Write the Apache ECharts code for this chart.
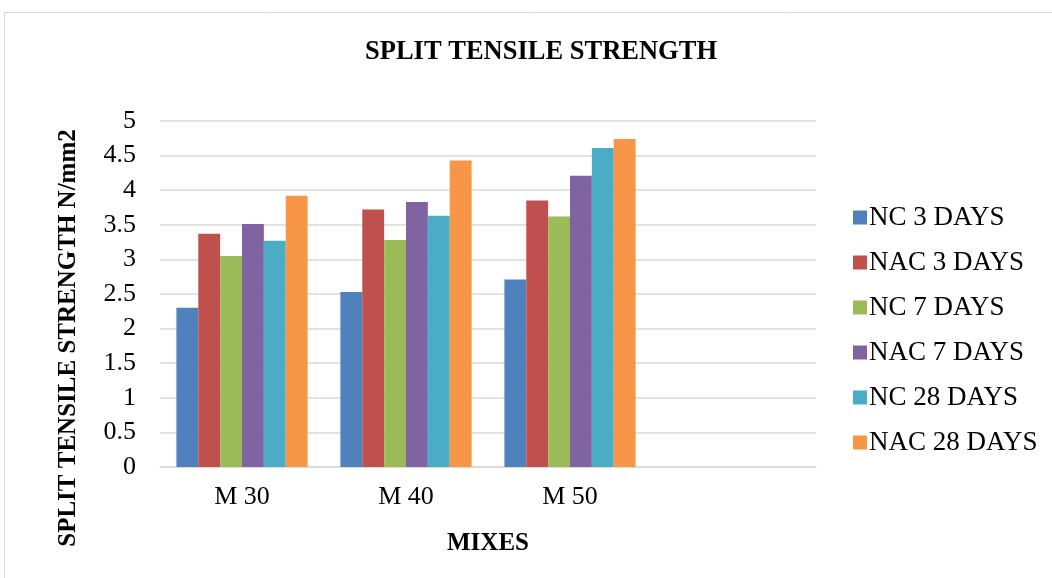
<!DOCTYPE html>
<html>
<head>
<meta charset="utf-8">
<script src="https://cdn.jsdelivr.net/npm/echarts@6/dist/echarts.min.js"></script>
<style>
  html, body { margin: 0; padding: 0; background: #fff; }
  #chart { width: 1052px; height: 578px; }
</style>
</head>
<body>
<div id="chart"></div>
<script>
// Mix designs on the category axis (last slot left empty)
const mixes = ['M 30', 'M 40', 'M 50', ''];

// Split tensile strength, N/mm2, per curing age
const nc3 = [2.30, 2.53, 2.71];
const nac3 = [3.37, 3.72, 3.85];
const nc7 = [3.05, 3.28, 3.62];
const nac7 = [3.51, 3.83, 4.21];
const nc28 = [3.27, 3.63, 4.61];
const nac28 = [3.92, 4.43, 4.74];

const seriesNames = ['NC 3 DAYS', 'NAC 3 DAYS', 'NC 7 DAYS', 'NAC 7 DAYS', 'NC 28 DAYS', 'NAC 28 DAYS'];
const seriesData = [nc3, nac3, nc7, nac7, nc28, nac28];
const colors = ['#4F81BD', '#C0504D', '#9BBB59', '#8064A2', '#4BACC6', '#F79646'];

const serif = '"Liberation Serif", "Times New Roman", serif';

const chart = echarts.init(document.getElementById('chart'));
chart.setOption({
  animation: false,
  color: colors,
  title: {
    text: 'SPLIT TENSILE STRENGTH',
    left: 536,
    textAlign: 'center',
    top: 34,
    textStyle: { fontFamily: serif, fontSize: 26.5, fontWeight: 'bold', color: '#000' }
  },
  graphic: [
    {
      type: 'rect',
      shape: { x: 4.5, y: 12.5, width: 1100, height: 600 },
      style: { fill: 'none', stroke: '#d9d9d9', lineWidth: 1 },
      silent: true
    },
    {
      // value-axis title, set slightly below the plot's vertical centre
      type: 'text',
      x: 69,
      y: 338,
      rotation: Math.PI / 2,
      style: {
        text: 'SPLIT TENSILE STRENGTH N/mm2',
        fontFamily: serif,
        fontSize: 25,
        fontWeight: 'bold',
        fill: '#000',
        textAlign: 'center',
        textVerticalAlign: 'middle'
      },
      silent: true
    }
  ],
  legend: {
    orient: 'vertical',
    left: 848,
    top: 199,
    itemWidth: 14,
    itemHeight: 14,
    itemGap: 18,
    icon: 'rect',
    textStyle: { fontFamily: serif, fontSize: 27, color: '#000', lineHeight: 27, padding: [0, 0, 0, -3] },
    data: seriesNames
  },
  grid: { left: 160, right: 236, top: 121, bottom: 111, containLabel: false },
  xAxis: {
    type: 'category',
    data: mixes,
    name: 'MIXES',
    nameLocation: 'middle',
    nameGap: 64,
    nameTextStyle: { fontFamily: serif, fontSize: 25, fontWeight: 'bold', color: '#000' },
    axisLine: { lineStyle: { color: '#d9d9d9', width: 1.5 } },
    axisTick: { show: false },
    axisLabel: { fontFamily: serif, fontSize: 26, color: '#000', margin: 17 }
  },
  yAxis: {
    type: 'value',
    min: 0,
    max: 5,
    interval: 0.5,
    axisLine: { show: false },
    axisTick: { show: false },
    axisLabel: { fontFamily: serif, fontSize: 26, color: '#000', margin: 24 },
    splitLine: { lineStyle: { color: '#d9d9d9', width: 1.5 } }
  },
  series: seriesNames.map((name, i) => ({
    name: name,
    type: 'bar',
    data: seriesData[i],
    barGap: '0%',
    barCategoryGap: '20%',
    itemStyle: { color: colors[i] }
  }))
});
</script>
</body>
</html>
